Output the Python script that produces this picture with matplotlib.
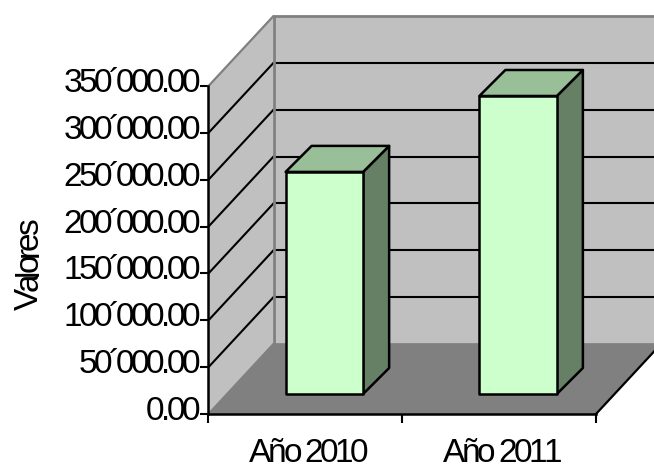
import matplotlib
matplotlib.use("Agg")
import matplotlib.pyplot as plt
from matplotlib.font_manager import findfont, get_font
from matplotlib.ft2font import LoadFlags
from matplotlib.patches import Polygon
from matplotlib.text import Text
from matplotlib.transforms import Affine2D, Bbox, IdentityTransform

categories = ["Año 2010", "Año 2011"]
values = [237000, 318000]
tick_values = [0, 50000, 100000, 150000, 200000, 250000, 300000, 350000]
tick_labels = ["0.00", "50´000.00", "100´000.00", "150´000.00", "200´000.00",
               "250´000.00", "300´000.00", "350´000.00"]
axis_title = "Valores"

plt.rcParams["font.family"] = ["Liberation Sans", "DejaVu Sans"]


class TrackedText(Text):
    """A text artist that draws its string with tightened letter spacing."""

    def __init__(self, *args, tracking=0.0, **kwargs):
        super().__init__(*args, **kwargs)
        self._tracking = tracking

    def _advances(self, dpi):
        font = get_font(findfont(self.get_fontproperties()))
        font.set_size(self.get_fontsize(), dpi)
        return [font.load_char(ord(c), flags=LoadFlags.NO_HINTING).linearHoriAdvance / 65536
                + self._tracking for c in self.get_text()]

    def _span(self, dpi):
        adv = self._advances(dpi)
        total = sum(adv) - self._tracking
        shift = {"left": 0.0, "center": -total / 2, "right": -total}[self.get_ha()]
        return shift, adv, total

    def _get_layout(self, renderer):
        # Report the tightened extent relative to the anchor point
        dpi = self.get_figure().dpi
        shift, adv, total = self._span(dpi)
        h = self.get_fontsize() * dpi / 72
        if self.get_rotation() == 90:
            box = Bbox([[-h * 0.78, shift], [h * 0.03, shift + total]])
        else:
            box = Bbox([[shift, -h * 0.03], [shift + total, h * 0.78]])
        return box, [], h * 0.03

    def draw(self, renderer):
        dpi = self.get_figure().dpi
        x, y = self.get_transform().transform(self.get_position())
        shift, adv, total = self._span(dpi)
        vertical = self.get_rotation() == 90
        pos = shift
        for ch, a in zip(self.get_text(), adv):
            px, py = (x, y + pos) if vertical else (x + pos, y)
            glyph = Text(px, py, ch, transform=IdentityTransform(), fontproperties=self.get_fontproperties(),
                         color=self.get_color(), rotation=self.get_rotation(),
                         rotation_mode="anchor", ha="left", va="baseline")
            glyph.set_figure(self.get_figure())
            glyph.draw(renderer)
            pos += a


W, H = 654, 466
fig = plt.figure(figsize=(W / 100, H / 100), dpi=100)
ax_l, ax_r, ax_b, ax_t = 208.5, 596.0, 414.0, 86.0
ax = fig.add_axes([ax_l / W, 1 - ax_b / H, (ax_r - ax_l) / W, (ax_b - ax_t) / H])
ymax = tick_values[-1]
n = len(categories)
ax.set_xlim(0, n)
ax.set_ylim(0, ymax)

# Oblique projection: a depth offset in pixels is turned into data units
px_x = n / (ax_r - ax_l)
px_y = ymax / (ax_b - ax_t)


def shifted(x, y, right, up):
    return (x + right * px_x, y + up * px_y)


def wall(x, y):
    return shifted(x, y, 65, 70)


def poly(points, face, edge="none", lw=0.0, z=1):
    ax.add_patch(Polygon(points, closed=True, facecolor=face, edgecolor=edge, linewidth=lw,
                         joinstyle="round", clip_on=False, zorder=z))


# Walls and floor
poly([(0, 0), (0, ymax), wall(0, ymax), wall(0, 0)], "#C0C0C0", z=1)
poly([wall(0, 0), wall(0, ymax), wall(n, ymax), wall(n, 0)], "#C0C0C0", z=1)
poly([(0, 0), (n, 0), wall(n, 0), wall(0, 0)], "#808080", z=1)

# Gridlines along the side wall and the back wall
for v in tick_values[1:-1]:
    ax.plot(*zip((0, v), wall(0, v)), color="black", lw=1.5, clip_on=False, zorder=2)
    ax.plot(*zip(wall(0, v), wall(n, v)), color="black", lw=1.5, clip_on=False, zorder=2)

# Wall outlines
grey = dict(color="#808080", clip_on=False, zorder=3, solid_capstyle="round")
ax.plot(*zip(wall(0, 0), wall(0, ymax), wall(n, ymax)), lw=2.0, **grey)
ax.plot(*zip((0, ymax), wall(0, ymax)), lw=1.6, **grey)
ax.plot(*zip((0, 0), wall(0, 0)), lw=1.6, **grey)
ax.plot(*zip(wall(0, 0), wall(n, 0)), lw=1.2, **grey)
ax.plot(*zip((n, 0), wall(n, 0)), color="black", lw=1.6, clip_on=False, zorder=3)


# Bars as oblique boxes
def front(x, y):
    return shifted(x, y, 19.0, 20)


def back(x, y):
    return shifted(x, y, 45.0, 46)


bar_w = 0.4
black = dict(edge="black", lw=1.8, z=4)
for i, v in enumerate(values):
    x0, x1 = i + 0.5 - bar_w / 2, i + 0.5 + bar_w / 2
    poly([front(x1, 0), front(x1, v), back(x1, v), back(x1, 0)], "#668066", **black)
    poly([front(x0, v), front(x1, v), back(x1, v), back(x0, v)], "#99BF99", **black)
    poly([front(x0, 0), front(x1, 0), front(x1, v), front(x0, v)], "#CCFFCC", **black)

# Axes
for side in ("top", "right"):
    ax.spines[side].set_visible(False)
for side in ("left", "bottom"):
    ax.spines[side].set_linewidth(1.8)
    ax.spines[side].set_zorder(6)
ax.patch.set_visible(False)
ax.set_yticks(tick_values)
ax.set_yticklabels([])
ax.tick_params(axis="y", length=6, width=1.5)
ax.set_xticks(range(n + 1))
ax.set_xticklabels([])
ax.tick_params(axis="x", length=6.5, width=1.5)

# Labels with tight letter spacing
FS, TRACK = 24, -3.6
for v, lab in zip(tick_values, tick_labels):
    tr = ax.transData + Affine2D().translate(-8.5, -6)
    ax.add_artist(TrackedText(0, v, lab, transform=tr, fontsize=FS, tracking=TRACK, ha="right", clip_on=False))
for i, cat in enumerate(categories):
    tr = ax.transData + Affine2D().translate(3.5, -48)
    ax.add_artist(TrackedText(i + 0.5, 0, cat, transform=tr, fontsize=FS, tracking=-3.3, ha="center", clip_on=False))
title = TrackedText(38 / W, 1 - 264 / H, axis_title, transform=fig.transFigure, fontsize=FS,
                    tracking=TRACK, rotation=90, ha="center")
fig.add_artist(title)

fig.savefig("out.png", dpi=100)
